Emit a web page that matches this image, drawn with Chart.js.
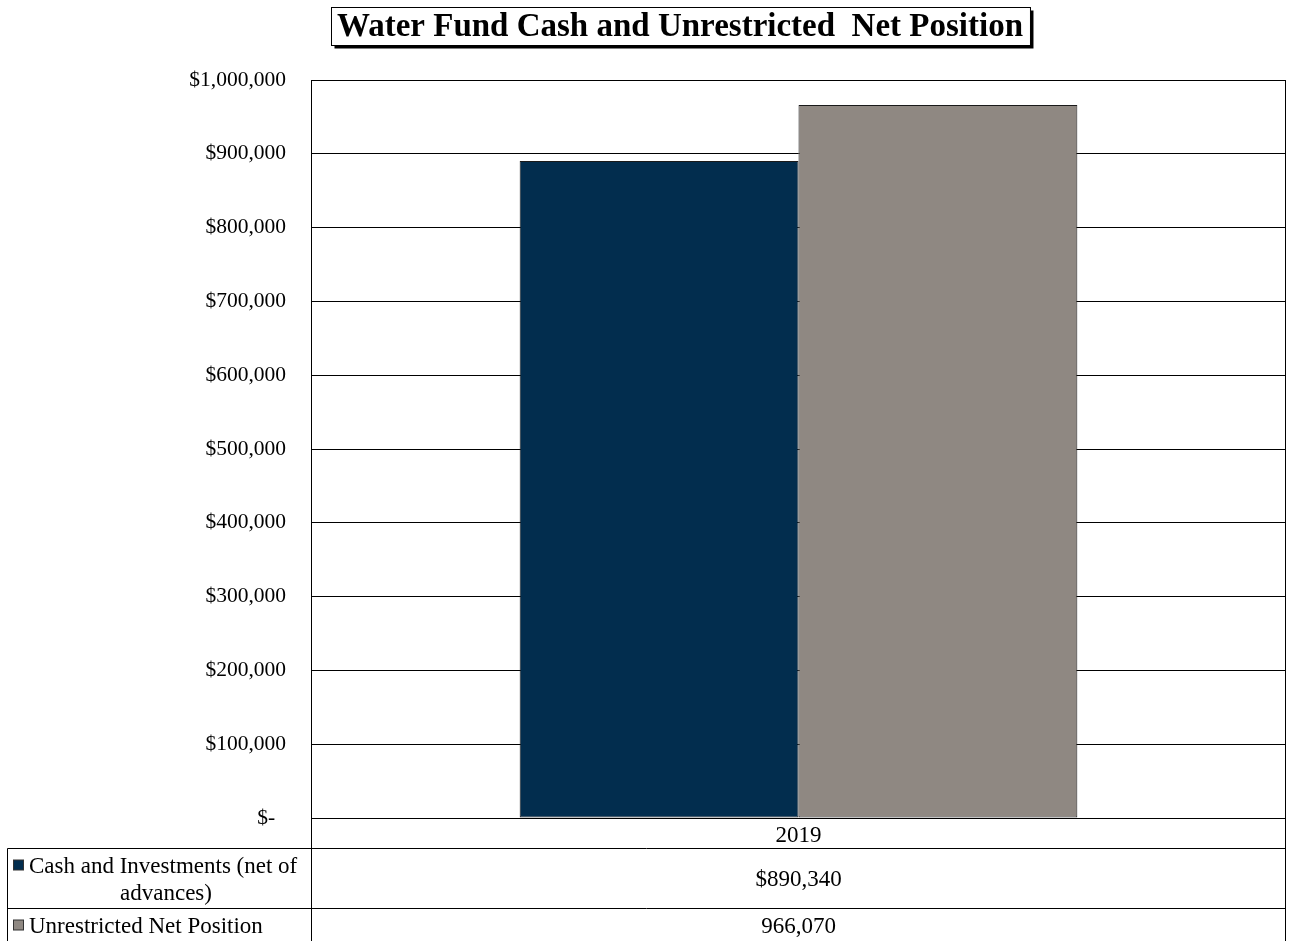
<!DOCTYPE html>
<html>
<head>
<meta charset="utf-8">
<title>Water Fund Cash and Unrestricted Net Position</title>
<script src="https://cdn.jsdelivr.net/npm/chart.js@4.4.1/dist/chart.umd.min.js"></script>
<style>
  body { margin: 0; background: #fff; }
  canvas { display: block; }
</style>
</head>
<body>
<canvas id="fundChart" width="1289" height="941"></canvas>
<script>
// Chart data
const chartTitle = 'Water Fund Cash and Unrestricted  Net Position';
const categories = ['2019'];
const cashValues = [890340];
const unrestrictedValues = [966070];
const seriesLabels = ['Cash and Investments (net of advances)', 'Unrestricted Net Position'];
const seriesColors = ['#022d4e', '#8f8882'];
const yTickMax = 1000000;
const yTickStep = 100000;

const serif = "'Liberation Serif', 'Times New Roman', serif";

function money(v) {
    return '$' + v.toLocaleString('en-US');
}

// Title box with drop shadow, drawn above the plot
const titlePlugin = {
    id: 'titleBox',
    afterDraw(chart) {
        const ctx = chart.ctx;
        ctx.save();
        ctx.font = 'bold 33px ' + serif;
        const w = ctx.measureText(chartTitle).width + 13;
        const cx = 680;
        const x = Math.round(cx - w / 2) + 0.5;
        const y = 7.5;
        const h = 38;
        ctx.fillStyle = '#000';
        ctx.fillRect(x + 3, y + 3, w, h);
        ctx.fillStyle = '#fff';
        ctx.fillRect(x, y, w, h);
        ctx.strokeStyle = '#000';
        ctx.lineWidth = 1;
        ctx.strokeRect(x, y, w, h);
        ctx.fillStyle = '#000';
        ctx.textAlign = 'center';
        ctx.textBaseline = 'middle';
        ctx.fillText(chartTitle, cx, y + h / 2 + 1);
        ctx.restore();
    }
};

// Plot border plus the data table below the axis
const tablePlugin = {
    id: 'dataTable',
    afterDraw(chart) {
        const ctx = chart.ctx;
        const area = chart.chartArea;
        const left = Math.round(area.left) + 0.5;
        const right = Math.round(area.right) - 0.5;
        const bottom = Math.round(area.bottom) + 0.5;
        const rowTops = [848.5, 908.5];
        const rowHeights = [60, 60];
        const tableLeft = 7.5;
        const tableBottom = 941;

        ctx.save();
        ctx.strokeStyle = '#000';
        ctx.lineWidth = 1;
        ctx.strokeRect(left, Math.round(area.top) + 0.5, right - left, bottom - Math.round(area.top) - 0.5);

        ctx.beginPath();
        ctx.moveTo(left, bottom);
        ctx.lineTo(left, tableBottom);
        ctx.moveTo(right, bottom);
        ctx.lineTo(right, tableBottom);
        ctx.moveTo(tableLeft, rowTops[0]);
        ctx.lineTo(tableLeft, tableBottom);
        rowTops.forEach(t => {
            ctx.moveTo(tableLeft, t);
            ctx.lineTo(right, t);
        });
        ctx.stroke();

        const seriesData = [cashValues, unrestrictedValues];
        ctx.font = '23px ' + serif;
        ctx.fillStyle = '#000';
        ctx.textBaseline = 'middle';
        seriesLabels.forEach((label, i) => {
            const top = rowTops[i];
            // wrap the row label to fit the left column
            const words = label.split(' ');
            const lines = [];
            let line = '';
            words.forEach(word => {
                const test = line ? line + ' ' + word : word;
                if (ctx.measureText(test).width > 282 && line) {
                    lines.push(line);
                    line = word;
                } else {
                    line = test;
                }
            });
            lines.push(line);

            const lineH = 27;
            const firstY = top + 17;
            // legend key
            ctx.fillStyle = seriesColors[i];
            ctx.fillRect(13.5, firstY - 5.5, 10, 10);
            ctx.strokeStyle = '#333';
            ctx.strokeRect(13.5, firstY - 5.5, 10, 10);
            ctx.fillStyle = '#000';
            lines.forEach((ln, j) => {
                if (j === 0) {
                    ctx.textAlign = 'left';
                    ctx.fillText(ln, 29, firstY + 1);
                } else {
                    ctx.textAlign = 'center';
                    ctx.fillText(ln, 166, firstY + 1 + j * lineH);
                }
            });

            // values, one cell per category
            const catW = (right - left) / categories.length;
            categories.forEach((c, k) => {
                const v = seriesData[i][k];
                const text = i === 0 ? money(v) : v.toLocaleString('en-US');
                const rowMid = i === 0 ? top + rowHeights[i] / 2 + 1 : top + 18;
                ctx.textAlign = 'center';
                ctx.fillText(text, left + catW * (k + 0.5), rowMid);
            });
        });
        ctx.restore();
    }
};

const ctx = document.getElementById('fundChart').getContext('2d');
new Chart(ctx, {
    type: 'bar',
    data: {
        labels: categories,
        datasets: [{
            label: seriesLabels[0],
            data: cashValues,
            backgroundColor: seriesColors[0],
            borderColor: '#1a1a1a',
            borderWidth: 1,
            borderSkipped: false
        }, {
            label: seriesLabels[1],
            data: unrestrictedValues,
            backgroundColor: seriesColors[1],
            borderColor: '#1a1a1a',
            borderWidth: 1,
            borderSkipped: false
        }]
    },
    options: {
        responsive: false,
        animation: false,
        layout: { padding: { top: 80, right: 3, left: 0, bottom: 0 } },
        datasets: {
            bar: { categoryPercentage: 0.572, barPercentage: 1 }
        },
        plugins: {
            legend: { display: false },
            title: { display: false },
            tooltip: { enabled: false }
        },
        scales: {
            x: {
                grid: { display: false, drawTicks: false },
                border: { display: false },
                ticks: {
                    color: '#000',
                    padding: 4,
                    font: { family: serif, size: 23 }
                },
                afterFit(scale) { scale.height = 123; }
            },
            y: {
                min: 0,
                max: yTickMax,
                grid: { color: '#000', lineWidth: 1, drawTicks: false },
                border: { display: false },
                ticks: {
                    stepSize: yTickStep,
                    color: '#000',
                    padding: 25,
                    font: { family: serif, size: 21.5 },
                    callback: v => v === 0 ? '$-  ' : money(v)
                },
                afterFit(scale) { scale.width = 311; }
            }
        }
    },
    plugins: [tablePlugin, titlePlugin]
});
</script>
</body>
</html>
